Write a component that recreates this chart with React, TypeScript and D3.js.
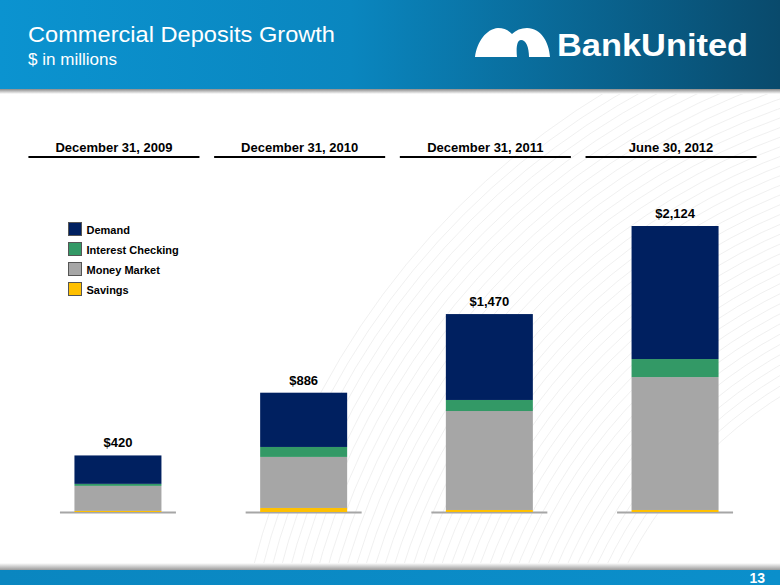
import React from "react";
import * as d3 from "d3";

const categories = ["December 31, 2009", "December 31, 2010", "December 31, 2011", "June 30, 2012"];
const seriesNames = ["Savings", "Money Market", "Interest Checking", "Demand"];
const savings = [8, 30, 15, 15];
const moneyMarket = [186, 379, 735, 987];
const interestChecking = [15, 74, 82, 134];
const demand = [211, 403, 638, 988];
const totals = [420, 886, 1470, 2124];
const totalLabels = ["$420", "$886", "$1,470", "$2,124"];
const legendOrder = ["Demand", "Interest Checking", "Money Market", "Savings"];

const colors: Record<string, string> = {
  Demand: "#002060",
  "Interest Checking": "#339966",
  "Money Market": "#a6a6a6",
  Savings: "#ffc000",
};

const W = 780;
const H = 585;
const FONT = "'Liberation Sans', Arial, sans-serif";

export default function App() {
  const x = d3.scaleBand<string>().domain(categories).range([21, 764]).paddingInner(0.079).paddingOuter(0.04);
  const y = d3.scaleLinear().domain([0, 2124]).range([512, 226]);
  const bw = x.bandwidth();
  const barW = 87;

  const rows = categories.map((c, i) => ({
    cat: c,
    Savings: savings[i],
    "Money Market": moneyMarket[i],
    "Interest Checking": interestChecking[i],
    Demand: demand[i],
  }));
  const stacked = d3.stack<any>().keys(seriesNames)(rows);

  const arcs = d3.range(0, 40).map((i) => 430 + i * 9);

  return (
    <svg width={W} height={H} style={{ position: "absolute", left: 0, top: 0, display: "block" }}>
      <defs>
        <linearGradient id="hdr" x1="0" x2="1" y1="0" y2="0">
          <stop offset="0" stopColor="#0b93d0" />
          <stop offset="0.45" stopColor="#0a86bf" />
          <stop offset="1" stopColor="#094a6c" />
        </linearGradient>
        <linearGradient id="ftr" x1="0" x2="1" y1="0" y2="0">
          <stop offset="0" stopColor="#0a86c0" />
          <stop offset="1" stopColor="#0b8fcb" />
        </linearGradient>
        <linearGradient id="shadowTop" x1="0" x2="0" y1="0" y2="1">
          <stop offset="0" stopColor="#8a8a8a" />
          <stop offset="1" stopColor="#ffffff" />
        </linearGradient>
        <linearGradient id="shadowBot" x1="0" x2="0" y1="0" y2="1">
          <stop offset="0" stopColor="#ffffff" />
          <stop offset="1" stopColor="#9a9a9a" />
        </linearGradient>
        <clipPath id="body">
          <rect x={0} y={90} width={W} height={478} />
        </clipPath>
      </defs>
      <rect x={0} y={0} width={W} height={H} fill="#ffffff" />

      <g clipPath="url(#body)">
        {arcs.map((r, i) => (
          <circle key={i} cx={1010} cy={760} r={r} fill="none" stroke="#dcdcdc" strokeWidth={0.6} opacity={0.7} />
        ))}
      </g>

      {/* header */}
      <rect x={0} y={0} width={W} height={89} fill="url(#hdr)" />
      <rect x={0} y={89} width={W} height={5} fill="url(#shadowTop)" />
      <text x={28} y={42} fill="#ffffff" fontFamily={FONT} fontSize={21.5} textLength={307} lengthAdjust="spacingAndGlyphs">
        Commercial Deposits Growth
      </text>
      <text x={28} y={65} fill="#ffffff" fontFamily={FONT} fontSize={16} textLength={89} lengthAdjust="spacingAndGlyphs">
        $ in millions
      </text>
      {/* logo */}
      <path
        fill="#ffffff"
        d="M475,57 C477,42 486,29 498,28 C504,28 508,30 512,34 C516,30 521,28 527,28 C541,28 549,42 550,57 L529,57 C529,47 526,40 521,40 C517,40 516,48 517,57 Z"
      />
      <text x={557} y={56} fill="#ffffff" fontFamily={FONT} fontWeight="bold" fontSize={32} textLength={191} lengthAdjust="spacingAndGlyphs">
        BankUnited
      </text>

      {/* column headers */}
      {categories.map((c) => (
        <g key={c}>
          <text x={(x(c) as number) + bw / 2} y={152} textAnchor="middle" fontFamily={FONT} fontWeight="bold" fontSize={13} fill="#000">
            {c}
          </text>
          <line x1={x(c) as number} x2={(x(c) as number) + bw} y1={157} y2={157} stroke="#000" strokeWidth={2} />
        </g>
      ))}

      {/* baselines */}
      {categories.map((c) => {
        const cx = (x(c) as number) + bw / 2 + 4;
        return (
          <line key={"b" + c} x1={cx - 58} x2={cx + 58} y1={y(0) + 0.5} y2={y(0) + 0.5} stroke="#a6a6a6" strokeWidth={2} />
        );
      })}
      {stacked.map((s) => (
        <g key={s.key} fill={colors[s.key]}>
          {s.map((d, i) => {
            const cx = (x(categories[i]) as number) + bw / 2 + 4;
            return <rect key={i} x={cx - barW / 2} y={y(d[1])} width={barW} height={y(d[0]) - y(d[1])} />;
          })}
        </g>
      ))}
      {categories.map((c, i) => {
        const cx = (x(c) as number) + bw / 2 + 4;
        return (
          <text key={"t" + c} x={cx} y={y(totals[i]) - 8} textAnchor="middle" fontFamily={FONT} fontWeight="bold" fontSize={13} fill="#000">
            {totalLabels[i]}
          </text>
        );
      })}

      {/* legend */}
      {legendOrder.map((k, i) => (
        <g key={k} transform={`translate(68.5,${222.5 + i * 20})`}>
          <rect width={13} height={13} fill={colors[k]} stroke="#555" strokeWidth={1} />
          <text x={18} y={11} fontFamily={FONT} fontWeight="bold" fontSize={11} fill="#000">
            {k}
          </text>
        </g>
      ))}

      {/* footer */}
      <rect x={0} y={563} width={W} height={7} fill="url(#shadowBot)" />
      <rect x={0} y={570} width={W} height={15} fill="url(#ftr)" />
      <text x={765} y={583} textAnchor="end" fontFamily={FONT} fontWeight="bold" fontSize={14} fill="#ffffff">
        13
      </text>
    </svg>
  );
}
